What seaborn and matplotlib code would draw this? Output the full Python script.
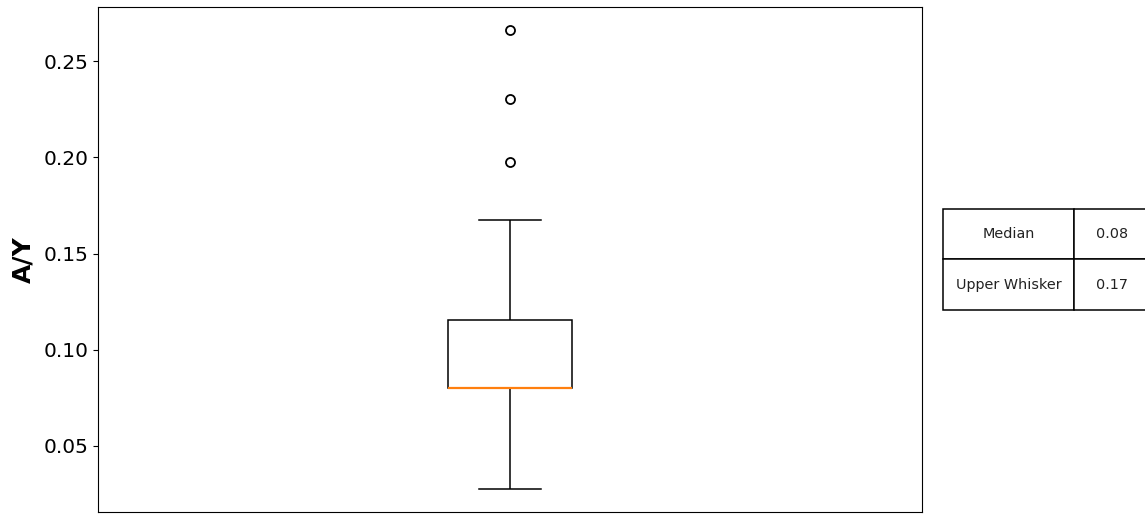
import numpy as np
import pandas as pd
import matplotlib
matplotlib.use("Agg")
import matplotlib.pyplot as plt
import seaborn as sns

# A/Y ratios (q1 = median = 0.08, q3 ~0.115, whiskers ~0.027 / ~0.168)
ay_values = [0.0275, 0.045, 0.060, 0.072, 0.080, 0.080, 0.080, 0.080, 0.080,
             0.088, 0.097, 0.106, 0.1152, 0.1677, 0.1974, 0.2302, 0.2663]
table_labels = ["Median", "Upper Whisker"]

df = pd.DataFrame({"A/Y": ay_values})

fig = plt.figure(figsize=(11.45, 5.14), dpi=100)
ax = fig.add_axes([0.0856, 0.0039, 0.7196, 0.9825])

sns.boxplot(data=df, y="A/Y", width=0.15, color="white", linecolor="black",
            linewidth=1.1,
            medianprops={"color": "#ff7f0e", "zorder": 5, "linewidth": 1.6},
            flierprops={"marker": "o", "markersize": 6.5, "markeredgewidth": 1.3,
                        "markerfacecolor": "none", "markeredgecolor": "black"},
            ax=ax)

ax.set_xticks([])
ax.set_xlabel("")
ax.set_ylabel("A/Y", fontsize=18, fontweight="bold", labelpad=6)
ax.tick_params(axis="y", labelsize=14.5)
for s in ax.spines.values():
    s.set_visible(True)

# summary stats for the table
vals = np.array(ay_values)
median = np.median(vals)
q1, q3 = np.percentile(vals, [25, 75])
upper_whisker = vals[vals <= q3 + 1.5 * (q3 - q1)].max()
cells = [[table_labels[0], f"{median:.2f}"],
         [table_labels[1], f"{upper_whisker:.2f}"]]

tbl = ax.table(cellText=cells, cellLoc="center", colWidths=[0.633, 0.367],
               bbox=[1.0255, 0.4, 0.251, 0.2])
tbl.auto_set_font_size(False)
tbl.set_fontsize(10.4)
for cell in tbl.get_celld().values():
    cell.set_linewidth(1.1)
    cell.get_text().set_color("#222222")

plt.savefig("out.png", dpi=100)
